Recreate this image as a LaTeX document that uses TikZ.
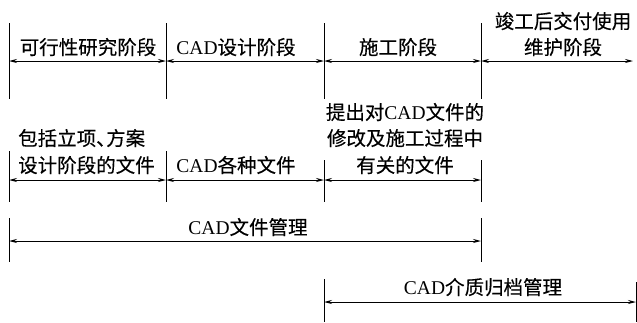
\documentclass[tikz,border=0pt]{standalone}
\usepackage{fontspec}
\setmainfont{Liberation Serif}
\newfontfamily\cjk[FakeBold=0.3]{Noto Sans CJK SC}
\newfontfamily\lat{Liberation Serif}
\newcommand{\cadtxt}{{\lat CAD}}
\usetikzlibrary{arrows.meta}
\begin{document}
\begin{tikzpicture}[x=1pt,y=-1pt,
  tick/.style={line width=0.9pt},
  dim/.style={{Stealth[length=8pt,width=4pt]}-{Stealth[length=8pt,width=4pt]}, line width=1pt},
  lbl/.style={font=\fontsize{19.5}{22}\selectfont\cjk, inner sep=0pt, anchor=base}
]
\useasboundingbox (0,0) rectangle (637,322);

% ---------- Row 1: stages ----------
\foreach \n/\x in {a/9,b/166,c/324,d/481}{
  \coordinate (r1t\n) at (\x,23);
  \coordinate (r1b\n) at (\x,99);
  \coordinate (r1m\n) at (\x,61);
  \draw[tick] (r1t\n) -- (r1b\n);
}
\coordinate (r1me) at (633,61);
\draw[dim] (r1ma) -- (r1mb);
\draw[dim] (r1mb) -- (r1mc);
\draw[dim] (r1mc) -- (r1md);
\draw[dim] (r1md) -- (r1me);
\node[lbl] (s1) at (88,54.5) {可行性研究阶段};
\node[lbl] (s2) at (236,54.5) {\cadtxt 设计阶段};
\node[lbl] (s3) at (398,54.5) {施工阶段};
\node[lbl] (s4a) at (563,28.5) {竣工后交付使用};
\node[lbl] (s4b) at (563,54.5) {维护阶段};

% ---------- Row 2: documents ----------
\foreach \n/\x/\t in {a/9/151,b/166/151,c/324/160,d/481/160}{
  \coordinate (r2t\n) at (\x,\t);
  \coordinate (r2b\n) at (\x,202);
  \coordinate (r2m\n) at (\x,180);
  \draw[tick] (r2t\n) -- (r2b\n);
}
\draw[dim] (r2ma) -- (r2mb);
\draw[dim] (r2mb) -- (r2mc);
\draw[dim] (r2mc) -- (r2md);
\node[lbl,anchor=base west] (d1a) at (18,145.5) {包括立项\makebox[10pt][l]{、}方案};
\node[lbl,anchor=base west] (d1b) at (18,172.5) {设计阶段的文件};
\node[lbl] (d2) at (236,172.5) {\cadtxt 各种文件};
\node[lbl] (d3a) at (405,119.5) {提出对\cadtxt 文件的};
\node[lbl] (d3b) at (405,145.5) {修改及施工过程中};
\node[lbl] (d3c) at (405,172.5) {有关的文件};

% ---------- Row 3: CAD file management ----------
\coordinate (r3ta) at (9,218);  \coordinate (r3ba) at (9,262);
\coordinate (r3tb) at (481,218); \coordinate (r3bb) at (481,262);
\coordinate (r3ma) at (9,241);  \coordinate (r3mb) at (481,241);
\draw[tick] (r3ta) -- (r3ba);
\draw[tick] (r3tb) -- (r3bb);
\draw[dim] (r3ma) -- (r3mb);
\node[lbl] (m1) at (248,234.5) {\cadtxt 文件管理};

% ---------- Row 4: CAD media archive management ----------
\coordinate (r4ta) at (324,279); \coordinate (r4ba) at (324,322);
\coordinate (r4tb) at (636,282); \coordinate (r4bb) at (636,322);
\coordinate (r4ma) at (324,302); \coordinate (r4mb) at (636,302);
\draw[tick] (r4ta) -- (r4ba);
\draw[tick] (r4tb) -- (r4bb);
\draw[dim] (r4ma) -- (r4mb);
\node[lbl] (m2) at (483,294.5) {\cadtxt 介质归档管理};
\end{tikzpicture}
\end{document}
